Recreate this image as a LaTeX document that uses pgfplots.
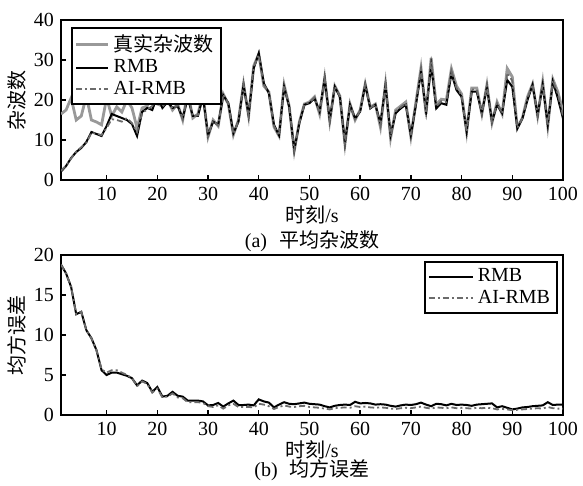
\documentclass[border=0pt]{standalone}
\usepackage{fontspec}
\setmainfont{Liberation Serif}
\newfontfamily\cjk{Noto Sans CJK SC}
\usepackage{pgfplots}
\usepackage{pgfplotstable}
\pgfplotsset{compat=1.18}
\definecolor{truegray}{gray}{0.6}
\definecolor{aigray}{gray}{0.42}

% t, true clutter number, RMB, AI-RMB
\pgfplotstableread{
t true rmb ai
1 16.5 2.1 2.3
2 17.5 3.5 3.6
3 20.5 5.5 5.4
4 15 7 7.1
5 16 8 8.2
6 21 9.5 9.3
7 15 12 11.8
8 14.5 11.5 11.6
9 13.8 11 11.2
10 20.5 13.5 13
11 16 16.5 15.2
12 18.3 16 15
13 17 15.5 14.6
14 20 15 15.5
15 18 14 14.2
16 13 11 12
17 18 17 16.8
18 18.5 18 17.6
19 22 17.5 18.5
20 19 21 20.2
21 18.5 18 18.3
22 20 19.5 19.8
23 17.5 18 17.8
24 19 18.5 18.8
25 15 15.5 15.2
26 22 20.5 21.5
27 15.5 16 15.8
28 16.5 16 16.2
29 21.5 20.8 21.2
30 10.8 11.2 11
31 15 14.6 14.8
32 13.5 13.8 13.6
33 21.5 21.2 21.4
34 19 19.2 19.1
35 11.3 11.7 11.5
36 15 14.6 14.8
37 24 23.8 23.9
38 16 16.2 16.1
39 28.5 27.9 28.2
40 31.5 31.7 31.3
41 23.5 24.2 23.8
42 22 21.7 21.9
43 13.3 13.8 13.5
44 11 11.2 11.1
45 23.8 23.3 23.5
46 18.5 18.3 18.4
47 7.3 7.5 7.4
48 14.5 14.2 14.3
49 19 18.8 18.9
50 19.5 19.2 19.4
51 20.8 20.4 20.6
52 16.5 17.1 16.8
53 25.5 25.4 25.5
54 14.7 15 14.8
55 23.5 23.3 23.4
56 21 20.8 20.9
57 9 9.2 9.1
58 19 18.8 18.9
59 15 15.4 15.2
60 17.5 17.1 17.3
61 24 23.8 23.9
62 18.2 17.9 18
63 19 18.8 18.9
64 13.2 14.2 13.6
65 24 23.8 23.9
66 10.5 11.2 10.8
67 17.5 16.7 17.2
68 18.5 17.9 18.2
69 19.5 18.8 19.2
70 10.8 11.2 11
71 19.5 18.8 19.2
72 28 27 27.6
73 16.5 17.1 16.8
74 30.5 28.8 29.8
75 18.8 17.9 18.4
76 20.2 19.2 19.7
77 20 18.8 19.5
78 27.8 26.7 27.3
79 23.5 22.5 23
80 21.5 20.8 21.2
81 12 12.1 12
82 23 22.1 22.6
83 23 22.1 22.6
84 16.5 16.7 16.6
85 23.8 23.3 23.6
86 14.3 14.6 14.5
87 19.5 18.8 19.2
88 16.5 16.7 16.6
89 27.9 25 26.8
90 25.8 23.3 24.8
91 13 12.9 13
92 15.5 15.4 15.5
93 20.8 20 20.5
94 24 23.8 23.9
95 16 16.2 16.1
96 24.5 23.8 24.2
97 13.5 13.8 13.6
98 25.2 24.6 24.9
99 22 20.4 21.5
100 17 15.4 16
}\clutter

% t, RMB, AI-RMB
\pgfplotstableread{
t rmb ai
1 18.8 18.8
2 17.7 17.7
3 16 16
4 12.6 12.6
5 12.9 12.9
6 10.6 10.6
7 9.6 9.6
8 8.1 8.1
9 5.6 5.7
10 5 5.3
11 5.3 5.6
12 5.3 5.6
13 5.1 5.3
14 4.9 5
15 4.6 4.6
16 3.7 3.6
17 4.3 4.2
18 4 3.9
19 2.9 2.8
20 3.5 3.3
21 2.3 2.2
22 2.4 2.3
23 2.9 2.7
24 2.4 2.2
25 2.3 2.1
26 1.8 1.6
27 1.8 1.6
28 1.8 1.6
29 1.7 1.5
30 1.2 1.1
31 1.25 1.0
32 1.5 1.2
33 1.05 0.8
34 1.45 1.2
35 1.8 1.4
36 1.25 1.0
37 1.25 1.0
38 1.3 1.0
39 1.2 0.95
40 1.95 1.4
41 1.7 1.3
42 1.55 1.1
43 0.95 0.75
44 1.3 1.0
45 1.6 1.2
46 1.4 1.05
47 1.35 1.0
48 1.45 1.1
49 1.55 1.15
50 1.4 1.0
51 1.35 0.95
52 1.3 0.9
53 1.1 0.8
54 0.95 0.7
55 1.15 0.85
56 1.25 0.9
57 1.3 0.95
58 1.25 0.9
59 1.65 1.1
60 1.45 1.0
61 1.5 1.05
62 1.45 0.95
63 1.3 0.9
64 1.35 0.95
65 1.3 0.9
66 1.15 0.8
67 1.05 0.75
68 1.2 0.85
69 1.3 0.9
70 1.25 0.85
71 1.35 0.95
72 1.55 1.05
73 1.3 0.9
74 1.1 0.8
75 1.4 0.95
76 1.35 0.9
77 1.2 0.85
78 1.4 0.95
79 1.25 0.85
80 1.3 0.9
81 1.25 0.85
82 1.15 0.8
83 1.3 0.9
84 1.35 0.85
85 1.4 0.9
86 1.45 0.85
87 0.95 0.7
88 1.1 0.75
89 0.9 0.7
90 0.7 0.6
91 0.8 0.65
92 0.95 0.7
93 1.0 0.75
94 1.1 0.8
95 1.15 0.85
96 1.2 0.8
97 1.6 1.0
98 1.25 0.85
99 1.3 0.8
100 1.3 0.8
}\mse

\begin{document}
\begin{tikzpicture}
\path[use as bounding box] (0pt,0pt) rectangle (291.5pt,-243pt);
\pgfplotsset{
  every axis/.append style={
    scale only axis, width=251pt, height=80pt,
    xmin=1, xmax=100, xtick={10,20,...,100},
    tick align=inside, xtick pos=bottom, ytick pos=left,
    major tick length=2.5pt,
    axis line style={line width=0.9pt},
    every tick/.style={black, line width=0.7pt},
    font=\fontsize{10}{11}\selectfont,
    /pgf/number format/assume math mode=true,
    xlabel={{\cjk 时刻}/s},
    xlabel style={yshift=4.5pt},
    ylabel style={yshift=-3pt},
    legend cell align=left,
    legend style={draw=black, line width=0.9pt, inner sep=1.5pt,
      row sep=-1.5pt, font=\fontsize{10}{11}\selectfont},
  }
}
\begin{axis}[at={(30.5pt,-90pt)}, anchor=south west,
  ymin=0, ymax=40, ytick={0,10,...,40},
  ylabel={\cjk 杂波数},
  legend image code/.code={\draw[#1] (0pt,0pt) -- (16pt,0pt);},
  legend style={at={(0,1)}, anchor=north west, xshift=5pt, yshift=-3.5pt}]
\addplot[truegray, line width=1.4pt] table[x=t, y=true] {\clutter};
\addplot[black, line width=1pt] table[x=t, y=rmb] {\clutter};
\addplot[aigray, line width=0.9pt, dash pattern=on 3pt off 1.5pt on 1pt off 1.5pt] table[x=t, y=ai] {\clutter};
\legend{{\cjk 真实杂波数}, RMB, AI-RMB}
\end{axis}
\node[font=\fontsize{10}{11}\selectfont] at (156pt,-120.5pt) {(a)\hspace{0.6em}{\cjk 平均杂波数}};

\begin{axis}[at={(30.5pt,-207.5pt)}, anchor=south west,
  ymin=0, ymax=20, ytick={0,5,...,20},
  ylabel={\cjk 均方误差},
  legend image code/.code={\draw[#1] (0pt,0pt) -- (22pt,0pt);},
  legend style={at={(1,1)}, anchor=north east, xshift=-2.5pt, yshift=-3pt}]
\addplot[black, line width=1pt] table[x=t, y=rmb] {\mse};
\addplot[aigray, line width=0.9pt, dash pattern=on 3pt off 1.5pt on 1pt off 1.5pt] table[x=t, y=ai] {\mse};
\legend{RMB, AI-RMB}
\end{axis}
\node[font=\fontsize{10}{11}\selectfont] at (156pt,-235pt) {(b)\hspace{0.6em}{\cjk 均方误差}};
\end{tikzpicture}
\end{document}
